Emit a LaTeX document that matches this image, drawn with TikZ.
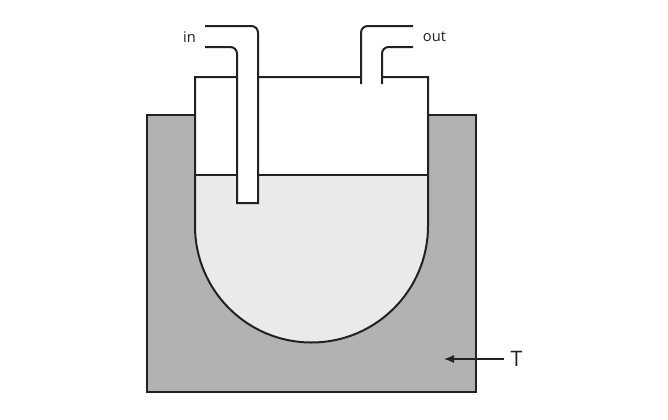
\documentclass[tikz,border=0pt]{standalone}
\usepackage{fontspec}
\setmainfont{Open Sans}
\usetikzlibrary{arrows.meta}
\definecolor{bathgray}{HTML}{B2B2B2}
\definecolor{liquidgray}{HTML}{EAEAEA}
\definecolor{linegray}{HTML}{222222}
\tikzset{
  wall/.style={draw=linegray, line width=1.5pt},
  pipe/.style={wall, fill=white},
  tag/.style={font=\fontsize{11}{13}\selectfont, text=linegray},
}
\begin{document}
\begin{tikzpicture}[x=0.75pt, y=0.75pt]
        \useasboundingbox (0,0) rectangle (668,419);
        % thermostat bath
        \path[wall, fill=bathgray] (147,27) rectangle (476,304);
        % vessel and liquid
        \fill[white] (195,342) -- (195,193) arc[start angle=180, end angle=360, radius=116.5] -- (428,342) -- cycle;
        \fill[liquidgray] (195,244) -- (195,193) arc[start angle=180, end angle=360, radius=116.5] -- (428,244) -- cycle;
        \draw[wall] (195,244) -- (428,244);
        \draw[wall] (361,342) -- (195,342) -- (195,193) arc[start angle=180, end angle=360, radius=116.5] -- (428,342) -- (382,342);
        % outlet
        \draw[wall, rounded corners=5pt] (361,335) -- (361,393) -- (413,393);
        \draw[wall, rounded corners=5pt] (382,335) -- (382,372) -- (413,372);
        % inlet
        \draw[pipe] (205,393) [rounded corners=5pt] -- (258,393) -- (258,300) [sharp corners] -- (258,216) -- (237,216) -- (237,300) [rounded corners=5pt] -- (237,372) -- (205,372);
        \node[tag] (inlabel) at (189.5,382) {in};
        \node[tag] (outlabel) at (434.5,382) {out};
        % temperature
        \node[font=\fontsize{16}{18}\selectfont, text=linegray, inner sep=5pt] (T) at (516.5,60) {T};
        \coordinate (Ttip) at (444,60);
        \draw[draw=linegray, line width=1pt, -{Latex[length=7.5pt, width=6pt]}] (T) -- (Ttip);
\end{tikzpicture}
\end{document}
